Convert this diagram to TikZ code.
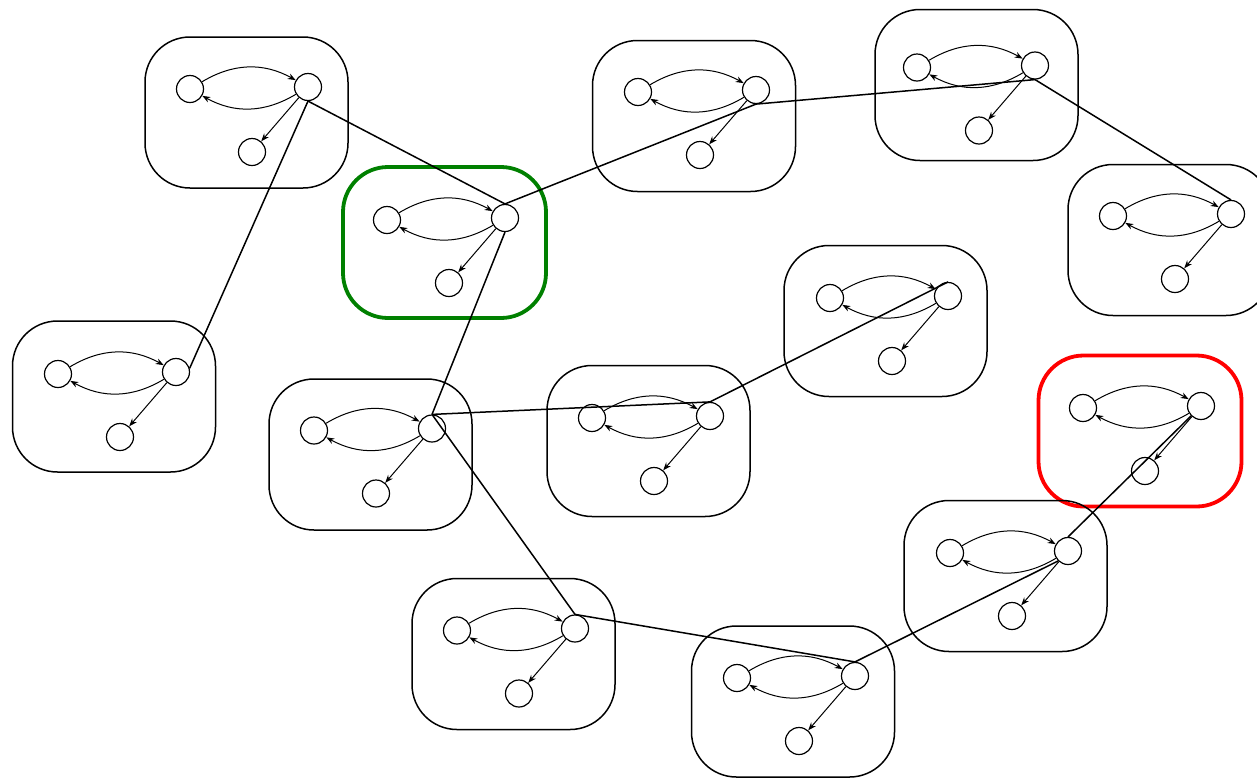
\documentclass[tikz,border=0pt]{standalone}
\usetikzlibrary{arrows.meta}
\begin{document}
\begin{tikzpicture}[x=1pt,y=-1pt,
	group/.style={draw,line width=1.5pt,rounded corners=45pt,minimum width=203pt,minimum height=151pt},
	plain/.style={},
	start/.style={draw=green!50!black,line width=3.8pt},
	goal/.style={draw=red,line width=3.8pt},
	state/.style={circle,draw,line width=1.2pt,minimum size=27pt,inner sep=0pt},
	move/.style={-{Stealth[length=8pt,width=6pt]},line width=1pt},
	link/.style={line width=1.5pt}]
	\useasboundingbox (0,0) rectangle (1257,777);
	% groups: box centre, right state, look
	\foreach \n/\bx/\by/\rx/\ry/\s in {a/246.5/112.5/308/87/plain, b/444.5/242.5/505/218/start,
		c/694/116/756/90/plain, d/976.5/85/1035/65.5/plain, e/1169.5/240/1231/214/plain,
		f/885.5/321/948/296/plain, g/1140/431/1201/406/goal, h/114/396.5/176/372/plain,
		i/370.5/454.5/432/428.5/plain, j/648.5/441/710/416/plain, k/1005.5/576/1068/551/plain,
		l/513.5/654/575/628.5/plain, m/793/701.5/855/676/plain}
	{
		\node[group,\s] (\n) at (\bx,\by) {};
		\node[state] (\n-r) at (\rx,\ry) {};
		\node[state] (\n-l) at (\rx-118,\ry+2) {};
		\node[state] (\n-b) at (\rx-56,\ry+65) {};
		\draw[move] (\n-l) to[bend left=30] (\n-r);
		\draw[move] (\n-r) to[bend left=30] (\n-l);
		\draw[move] (\n-r) -- (\n-b);
	}
	% links between groups
	\foreach \p/\q in {a-r.south/b-r.north, a-r.south/h-r.15, b-r.north/c-r.south,
		b-r.south/i-r.north, c-r.south/d-r.south, d-r.south/e-r.north,
		f-r.north/j-r.north, i-r.north/j-r.north, i-r.north/l-r.north,
		l-r.north/m-r.north, m-r.north/k-r.south west, k-r.north/g-r.south west}
	\draw[link] (\p) -- (\q);
\end{tikzpicture}
\end{document}
